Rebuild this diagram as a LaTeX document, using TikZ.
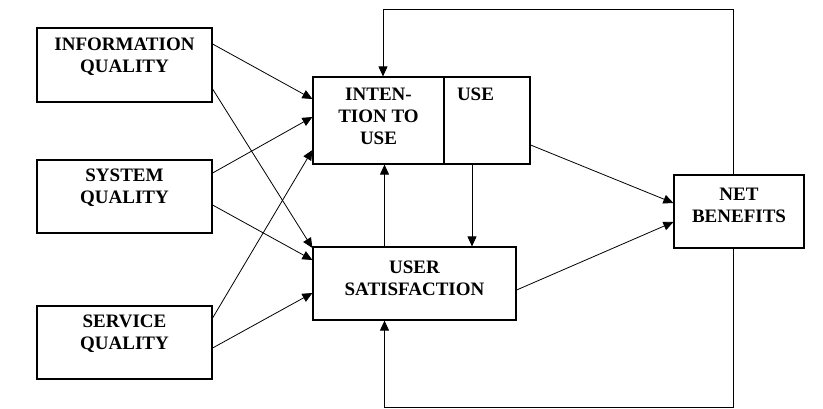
\documentclass[tikz,border=0pt]{standalone}
\usepackage{fontspec}
\setmainfont{Liberation Serif}
\usetikzlibrary{arrows.meta,calc}

\tikzset{
	block/.style={draw, line width=1.2pt, align=center, inner sep=0pt,
		font=\fontsize{19}{22}\selectfont\bfseries},
	link/.style={-{Triangle[length=10pt,width=9pt]}, line width=0.8pt}
}

\begin{document}
\begin{tikzpicture}[x=1pt, y=-1pt]
	\useasboundingbox (0,0) rectangle (823,408);
	% quality boxes
	\node[block, minimum width=175pt, minimum height=74pt, text depth=20pt] (info) at (124.5,65) {INFORMATION\\QUALITY};
	\node[block, minimum width=175pt, minimum height=73pt, text depth=20pt] (sys) at (124.5,196.5) {SYSTEM\\QUALITY};
	\node[block, minimum width=175pt, minimum height=73pt, text depth=20pt] (serv) at (124.5,342.5) {SERVICE\\QUALITY};
	% use / satisfaction / benefits
	\node[block, minimum width=131pt, minimum height=87pt, text depth=9pt] (intent) at (378.5,120.5) {INTEN-\\TION TO\\USE};
	\node[block, minimum width=86pt, minimum height=87pt, text depth=52pt, text width=60pt, inner xsep=13pt, align=left] (use) at (487,120.5) {USE};
	\node[block, minimum width=203pt, minimum height=73pt, text depth=11pt] (us) at (414.5,283.5) {USER\\SATISFACTION};
	\node[block, minimum width=130pt, minimum height=73pt, text depth=12pt] (nb) at (739,211.5) {NET\\BENEFITS};

	\draw[link] ([yshift=21pt]info.east) -- ([yshift=21.5pt]intent.west);
	\draw[link] ([yshift=-24pt]info.east) -- ([yshift=35.5pt]us.west);
	\draw[link] ([yshift=23.5pt]sys.east) -- ([yshift=3.5pt]intent.west);
	\draw[link] ([yshift=-8.5pt]sys.east) -- ([yshift=23.5pt]us.west);
	\draw[link] ([yshift=24.5pt]serv.east) -- ([yshift=-29.5pt]intent.west);
	\draw[link] ([yshift=-5.5pt]serv.east) -- ([yshift=-9.5pt]us.west);

	\draw[link] ([xshift=-30pt]us.north) -- ([xshift=-30pt]us.north |- intent.south);
	\draw[link] ([xshift=-15pt]use.south) -- ([xshift=-15pt]use.south |- us.north);
	\draw[link] ([yshift=-24.5pt]use.east) -- ([yshift=8.5pt]nb.west);
	\draw[link] ([yshift=-6.5pt]us.east) -- ([yshift=-10.5pt]nb.west);

	% feedback loops
	\draw[link] ([xshift=-6pt]nb.north) -- ++(0,-165) -| ([xshift=4.5pt]intent.north);
	\draw[link] ([xshift=-6pt]nb.south) -- ++(0,159) -| ([xshift=-30pt]us.south);
\end{tikzpicture}
\end{document}
